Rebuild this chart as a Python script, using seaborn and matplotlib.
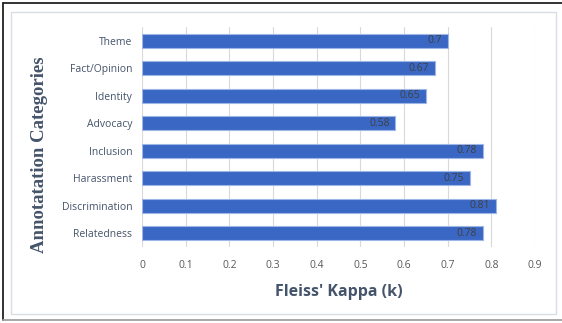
import matplotlib
matplotlib.use("Agg")
import matplotlib.pyplot as plt
from matplotlib.patches import Rectangle
from matplotlib.lines import Line2D
import seaborn as sns
import pandas as pd

categories = ["Theme", "Fact/Opinion", "Identity", "Advocacy",
              "Inclusion", "Harassment", "Discrimination", "Relatedness"]
kappa = [0.7, 0.67, 0.65, 0.58, 0.78, 0.75, 0.81, 0.78]
value_labels = ["0.7", "0.67", "0.65", "0.58", "0.78", "0.75", "0.81", "0.78"]
x_ticks = [0, 0.1, 0.2, 0.3, 0.4, 0.5, 0.6, 0.7, 0.8, 0.9]
x_tick_labels = ["0", "0.1", "0.2", "0.3", "0.4", "0.5", "0.6", "0.7", "0.8", "0.9"]

df = pd.DataFrame({"category": categories, "kappa": kappa})

sns.set_theme(style="white")
plt.rcParams["font.family"] = ["Open Sans", "DejaVu Sans"]

W, H = 562, 323
fig = plt.figure(figsize=(W / 100, H / 100), dpi=100)
fig.patch.set_facecolor("white")

# outer frame: dark top/left edges, grey bottom edge
fig.add_artist(Line2D([3 / W, 1], [1 - 3 / H, 1 - 3 / H], transform=fig.transFigure,
                      color="#222222", linewidth=1.3))
fig.add_artist(Line2D([3 / W, 3 / W], [1 - 3 / H, 1 - 320 / H], transform=fig.transFigure,
                      color="#222222", linewidth=1.3))
fig.add_artist(Line2D([3 / W, 1], [1 - 320 / H, 1 - 320 / H], transform=fig.transFigure,
                      color="#A0A0A0", linewidth=1.3))
# inner chart-area border
fig.add_artist(Rectangle((11 / W, 1 - 314 / H), 545 / W, 302 / H,
                         transform=fig.transFigure, fill=False,
                         edgecolor="#D9DCE3", linewidth=1.0))

ax = fig.add_axes([142 / W, 1 - 247 / H, 393 / W, 220 / H])

sns.barplot(data=df, x="kappa", y="category", orient="h", ax=ax,
            color="#3A67C4", width=0.5, saturation=1,
            edgecolor="#9DB6E6", linewidth=0.8, zorder=3)

ax.set_xlim(0, 0.9)
ax.set_ylim(7.5, -0.5)
ax.set_xticks(x_ticks)
ax.set_xticklabels(x_tick_labels, fontsize=7.5, color="#595959")
ax.tick_params(axis="y", labelsize=7.5, labelcolor="#44546A", length=0, pad=7)
ax.tick_params(axis="x", length=0, pad=9)
ax.grid(axis="x", color="#D9D9D9", linewidth=0.8, zorder=0)
for s in ax.spines.values():
    s.set_visible(False)

for i, (v, lab) in enumerate(zip(kappa, value_labels)):
    ax.text(v - 0.012, i, lab, ha="right", va="center",
            fontsize=7.5, color="#404040", zorder=4)

ax.set_xlabel("Fleiss' Kappa (k)", fontsize=11.5, fontweight="bold",
              color="#44546A", labelpad=10)
ax.set_ylabel("")
fig.text(40 / W, 1 - 155 / H, "Annotatation Categories", rotation=90,
         ha="center", va="center", fontsize=13.5, fontweight="bold",
         color="#44546A", family=["Liberation Serif", "DejaVu Serif"])

fig.savefig("out.png", dpi=100, facecolor="white")
